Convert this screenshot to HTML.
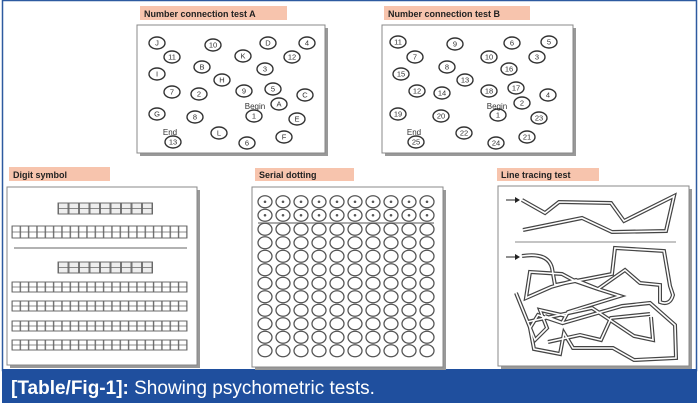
<!DOCTYPE html>
<html><head><meta charset="utf-8"><style>
html,body{margin:0;padding:0;background:#fff;width:699px;height:407px;overflow:hidden}
svg{display:block}
text{font-family:"Liberation Sans",sans-serif}
</style></head><body>
<svg width="699" height="407" viewBox="0 0 699 407" xmlns="http://www.w3.org/2000/svg">
<defs>
<pattern id="pc" x="256" y="195" width="18" height="13.5" patternUnits="userSpaceOnUse">
<ellipse cx="9" cy="6.75" rx="7" ry="6" fill="none" stroke="#555" stroke-width="1.3"/></pattern>
<pattern id="pd" x="256" y="195" width="18" height="13.5" patternUnits="userSpaceOnUse">
<ellipse cx="9" cy="6.75" rx="7" ry="6" fill="none" stroke="#555" stroke-width="1.3"/><circle cx="9" cy="6.75" r="1.3" fill="#555"/></pattern>
<pattern id="cells" x="12" y="0" width="8.33" height="200" patternUnits="userSpaceOnUse">
<rect x="0.3" y="0" width="7.7" height="200" fill="none" stroke="#666" stroke-width="0.7"/></pattern>
<pattern id="kc" x="58" y="0" width="10.5" height="200" patternUnits="userSpaceOnUse">
<rect x="0.5" y="0" width="9.5" height="200" fill="#eee" stroke="#555" stroke-width="0.8"/></pattern>
</defs>
<rect x="2.5" y="0.5" width="694" height="370" fill="none" stroke="#2d5aa0" stroke-width="1.5"/>
<rect x="2" y="369" width="695" height="34" fill="#1f4f9e"/>
<text x="11" y="394" font-size="19" fill="#fff"><tspan font-weight="bold">[Table/Fig-1]:</tspan> Showing psychometric tests.</text>

<g font-size="9" font-weight="bold" fill="#222">
<rect x="140" y="6" width="147" height="14" fill="#f7c4ad"/><text x="144" y="17">Number connection test A</text>
<rect x="384" y="6" width="146" height="14" fill="#f7c4ad"/><text x="388" y="17">Number connection test B</text>
<rect x="9" y="167" width="101" height="14" fill="#f7c4ad"/><text x="13" y="178">Digit symbol</text>
<rect x="255" y="168" width="99" height="13" fill="#f7c4ad"/><text x="259" y="178">Serial dotting</text>
<rect x="497" y="168" width="102" height="13" fill="#f7c4ad"/><text x="501" y="178">Line tracing test</text>
</g>

<g>
<rect x="140" y="28" width="188" height="128" fill="#999"/><rect x="137" y="25" width="188" height="128" fill="#fff" stroke="#888"/>
<rect x="385" y="28" width="191" height="128" fill="#999"/><rect x="382" y="25" width="191" height="128" fill="#fff" stroke="#888"/>
<rect x="10" y="190" width="190" height="178" fill="#999"/><rect x="7" y="187" width="190" height="178" fill="#fff" stroke="#888"/>
<rect x="255" y="190" width="191" height="180" fill="#999"/><rect x="252" y="187" width="191" height="180" fill="#fff" stroke="#888"/>
<rect x="501" y="189" width="191" height="180" fill="#999"/><rect x="498" y="186" width="191" height="180" fill="#fff" stroke="#888"/>
</g>

<g font-size="7.5" fill="#333" text-anchor="middle" stroke-width="1.4">
<g fill="none" stroke="#333">
<ellipse cx="157" cy="43" rx="8" ry="6"/><ellipse cx="213" cy="45" rx="8" ry="6"/><ellipse cx="268" cy="43" rx="8" ry="6"/><ellipse cx="307" cy="43" rx="8" ry="6"/>
<ellipse cx="172" cy="57" rx="8" ry="6"/><ellipse cx="243" cy="56" rx="8" ry="6"/><ellipse cx="292" cy="57" rx="8" ry="6"/><ellipse cx="202" cy="67" rx="8" ry="6"/>
<ellipse cx="265" cy="69" rx="8" ry="6"/><ellipse cx="157" cy="74" rx="8" ry="6"/><ellipse cx="222" cy="80" rx="8" ry="6"/><ellipse cx="172" cy="92" rx="8" ry="6"/>
<ellipse cx="199" cy="94" rx="8" ry="6"/><ellipse cx="244" cy="91" rx="8" ry="6"/><ellipse cx="273" cy="89" rx="8" ry="6"/><ellipse cx="305" cy="95" rx="8" ry="6"/>
<ellipse cx="279" cy="104" rx="8" ry="6"/><ellipse cx="157" cy="114" rx="8" ry="6"/><ellipse cx="195" cy="117" rx="8" ry="6"/><ellipse cx="254" cy="116" rx="8" ry="6"/>
<ellipse cx="297" cy="119" rx="8" ry="6"/><ellipse cx="173" cy="142" rx="8" ry="6"/><ellipse cx="219" cy="133" rx="8" ry="6"/><ellipse cx="247" cy="143" rx="8" ry="6"/><ellipse cx="284" cy="137" rx="8" ry="6"/>
</g>
<text x="157" y="45.5">J</text><text x="213" y="47.5">10</text><text x="268" y="45.5">D</text><text x="307" y="45.5">4</text>
<text x="172" y="59.5">11</text><text x="243" y="58.5">K</text><text x="292" y="59.5">12</text><text x="202" y="69.5">B</text>
<text x="265" y="71.5">3</text><text x="157" y="76.5">I</text><text x="222" y="82.5">H</text><text x="172" y="94.5">7</text>
<text x="199" y="96.5">2</text><text x="244" y="93.5">9</text><text x="273" y="91.5">5</text><text x="305" y="97.5">C</text>
<text x="279" y="106.5">A</text><text x="157" y="116.5">G</text><text x="195" y="119.5">8</text><text x="254" y="118.5">1</text>
<text x="297" y="121.5">E</text><text x="173" y="144.5">13</text><text x="219" y="135.5">L</text><text x="247" y="145.5">6</text><text x="284" y="139.5">F</text>
<text x="255" y="109" font-size="8">Begin</text><text x="170" y="135" font-size="8">End</text>
</g>

<g font-size="7.5" fill="#333" text-anchor="middle" stroke-width="1.4">
<g fill="none" stroke="#333">
<ellipse cx="398" cy="42" rx="8" ry="6"/><ellipse cx="455" cy="44" rx="8" ry="6"/><ellipse cx="512" cy="43" rx="8" ry="6"/><ellipse cx="549" cy="42" rx="8" ry="6"/>
<ellipse cx="415" cy="57" rx="8" ry="6"/><ellipse cx="489" cy="57" rx="8" ry="6"/><ellipse cx="537" cy="57" rx="8" ry="6"/><ellipse cx="447" cy="67" rx="8" ry="6"/>
<ellipse cx="509" cy="69" rx="8" ry="6"/><ellipse cx="401" cy="74" rx="8" ry="6"/><ellipse cx="465" cy="80" rx="8" ry="6"/><ellipse cx="417" cy="91" rx="8" ry="6"/>
<ellipse cx="442" cy="93" rx="8" ry="6"/><ellipse cx="489" cy="91" rx="8" ry="6"/><ellipse cx="516" cy="88" rx="8" ry="6"/><ellipse cx="548" cy="95" rx="8" ry="6"/>
<ellipse cx="522" cy="103" rx="8" ry="6"/><ellipse cx="398" cy="114" rx="8" ry="6"/><ellipse cx="441" cy="116" rx="8" ry="6"/><ellipse cx="498" cy="115" rx="8" ry="6"/>
<ellipse cx="539" cy="118" rx="8" ry="6"/><ellipse cx="416" cy="142" rx="8" ry="6"/><ellipse cx="464" cy="133" rx="8" ry="6"/><ellipse cx="496" cy="143" rx="8" ry="6"/><ellipse cx="527" cy="137" rx="8" ry="6"/>
</g>
<text x="398" y="44.5">11</text><text x="455" y="46.5">9</text><text x="512" y="45.5">6</text><text x="549" y="44.5">5</text>
<text x="415" y="59.5">7</text><text x="489" y="59.5">10</text><text x="537" y="59.5">3</text><text x="447" y="69.5">8</text>
<text x="509" y="71.5">16</text><text x="401" y="76.5">15</text><text x="465" y="82.5">13</text><text x="417" y="93.5">12</text>
<text x="442" y="95.5">14</text><text x="489" y="93.5">18</text><text x="516" y="90.5">17</text><text x="548" y="97.5">4</text>
<text x="522" y="105.5">2</text><text x="398" y="116.5">19</text><text x="441" y="118.5">20</text><text x="498" y="117.5">1</text>
<text x="539" y="120.5">23</text><text x="416" y="144.5">25</text><text x="464" y="135.5">22</text><text x="496" y="145.5">24</text><text x="527" y="139.5">21</text>
<text x="497" y="109" font-size="8">Begin</text><text x="414" y="135" font-size="8">End</text>
</g>

<g stroke="#666" stroke-width="0.8">
<rect x="58" y="203" width="94.5" height="11" fill="url(#kc)"/><rect x="58" y="203" width="94.5" height="11" fill="none"/><line x1="58" y1="208.5" x2="152.5" y2="208.5"/>
<rect x="12" y="226" width="175" height="12" fill="url(#cells)"/><rect x="12" y="226" width="175" height="12" fill="none"/><line x1="12" y1="232" x2="187" y2="232"/>
<line x1="14" y1="248" x2="187" y2="248" stroke-width="1"/>
<rect x="58" y="262" width="94.5" height="11" fill="url(#kc)"/><rect x="58" y="262" width="94.5" height="11" fill="none"/><line x1="58" y1="267.5" x2="152.5" y2="267.5"/>
<rect x="12" y="282" width="175" height="10" fill="url(#cells)"/><rect x="12" y="282" width="175" height="10" fill="none"/><line x1="12" y1="287" x2="187" y2="287"/>
<rect x="12" y="301" width="175" height="10" fill="url(#cells)"/><rect x="12" y="301" width="175" height="10" fill="none"/><line x1="12" y1="306" x2="187" y2="306"/>
<rect x="12" y="321" width="175" height="10" fill="url(#cells)"/><rect x="12" y="321" width="175" height="10" fill="none"/><line x1="12" y1="326" x2="187" y2="326"/>
<rect x="12" y="340" width="175" height="10" fill="url(#cells)"/><rect x="12" y="340" width="175" height="10" fill="none"/><line x1="12" y1="345" x2="187" y2="345"/>
</g>

<rect x="256" y="195" width="180" height="27" fill="url(#pd)"/>
<line x1="258" y1="223" x2="434" y2="223" stroke="#777" stroke-width="1.3"/>
<rect x="256" y="222" width="180" height="135" fill="url(#pc)" transform="translate(0,0.5)"/>

<g fill="none" stroke-linejoin="miter">
<g stroke="#444" stroke-width="4">
<polyline points="522,200 545,213 559,202 611,203 624,221 674,196 666,231 612,232 582,218 523,230"/>
<path d="M522,256 Q548,252 552,268 L555,285 L612,274 L615,248 L664,251 L670,286 L673,295 Q670,306 660,302 L660,285 L640,283 L625,270 L598,289 L575,281 L562,274 L530,272 L526,298 L551,287 L576,280 L598,289 L620,296 L568,312 L562,323 L538,315 L530,328 L534,349 L560,354 L564,333 L573,348 L613,348 L634,360 L676,358 L675,325 L650,303 L622,306 L563,323 L545,316"/>
<path d="M516,293 L535,340 L547,328 L540,310 L566,316"/>
<path d="M527,322 L592,308 L616,324 L634,336 L653,340 L651,317"/>
<path d="M548,342 L580,335 L601,340 L611,318 L650,314"/>
</g>
<g stroke="#fff" stroke-width="1.6">
<polyline points="522,200 545,213 559,202 611,203 624,221 674,196 666,231 612,232 582,218 523,230"/>
<path d="M522,256 Q548,252 552,268 L555,285 L612,274 L615,248 L664,251 L670,286 L673,295 Q670,306 660,302 L660,285 L640,283 L625,270 L598,289 L575,281 L562,274 L530,272 L526,298 L551,287 L576,280 L598,289 L620,296 L568,312 L562,323 L538,315 L530,328 L534,349 L560,354 L564,333 L573,348 L613,348 L634,360 L676,358 L675,325 L650,303 L622,306 L563,323 L545,316"/>
<path d="M516,293 L535,340 L547,328 L540,310 L566,316"/>
<path d="M527,322 L592,308 L616,324 L634,336 L653,340 L651,317"/>
<path d="M548,342 L580,335 L601,340 L611,318 L650,314"/>
</g>
<line x1="515" y1="242" x2="676" y2="242" stroke="#888" stroke-width="1"/>
<line x1="506" y1="200" x2="515" y2="200" stroke="#222" stroke-width="1"/><polygon points="515,197 520,200 515,203" fill="#222"/>
<line x1="506" y1="257" x2="515" y2="257" stroke="#222" stroke-width="1"/><polygon points="515,254 520,257 515,260" fill="#222"/>
</g>
</svg>
</body></html>
